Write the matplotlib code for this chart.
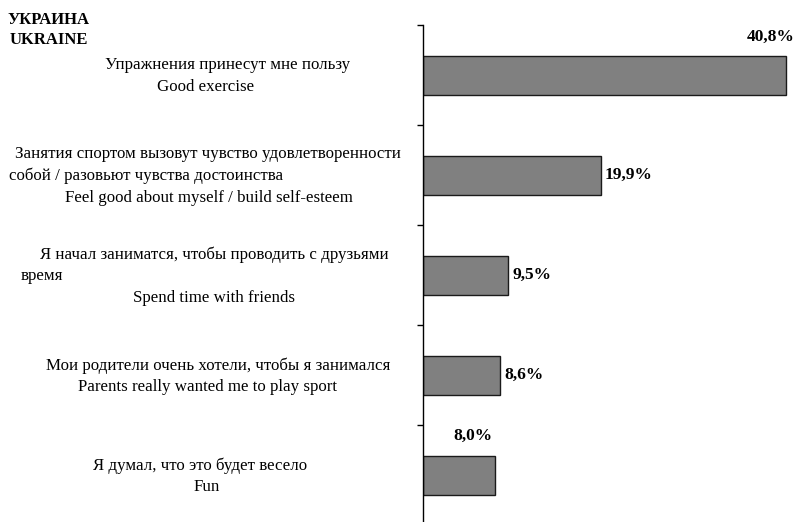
import matplotlib.pyplot as plt

# data
values = [40.8, 19.9, 9.5, 8.6, 8.0]
value_labels = ["40,8%", "19,9%", "9,5%", "8,6%", "8,0%"]
label_lines = [
    ["Упражнения принесут мне пользу", "Good exercise"],
    ["Занятия спортом вызовут чувство удовлетворенности",
     "собой / разовьют чувства достоинства",
     "Feel good about myself / build self-esteem"],
    ["Я начал заниматся, чтобы проводить с друзьями", "время",
     "Spend time with friends"],
    ["Мои родители очень хотели, чтобы я занимался",
     "Parents really wanted me to play sport"],
    ["Я думал, что это будет весело", "Fun"],
]
title_lines = ["УКРАИНА", "UKRAINE"]

# layout (pixels): x centre of every label line, line spacing
line_x = [
    [228, 206],
    [208, 146, 209],
    [214, 42, 214],
    [218, 208],
    [200, 207],
]
line_step = 21.5
# value label placement: (ha, dx px, dy px) relative to bar end / bar centre
lab_pos = [("right", 8, 38), ("left", 4, 0), ("left", 4, 0), ("left", 4, 0),
           ("center", -22, 39)]

W, H = 803, 522
plt.rcParams['font.family'] = ['Liberation Serif', 'DejaVu Serif']
fig = plt.figure(figsize=(W / 100, H / 100), dpi=100)

x0, ytop, ybot = 423.5, 25, 525
px_per = 8.897
xmax = 42
ax = fig.add_axes([x0 / W, (H - ybot) / H, xmax * px_per / W, (ybot - ytop) / H])

n = len(values)
ax.barh(range(n), values, height=0.39, color="#808080", edgecolor="#1a1a1a",
        linewidth=1)
ax.set_ylim(n - 0.5, -0.5)
ax.set_xlim(0, xmax)

for s in ["top", "right", "bottom"]:
    ax.spines[s].set_visible(False)
ax.spines["left"].set_linewidth(1)
ax.set_xticks([])
ax.set_yticks([i - 0.5 for i in range(n + 1)])
ax.set_yticklabels([])
ax.tick_params(axis="y", direction="out", length=4.5, width=1)

for i, (v, t) in enumerate(zip(values, value_labels)):
    ha, dx, dy = lab_pos[i]
    ax.annotate(t, (v, i), xytext=(dx * 0.72, dy * 0.72),
                textcoords="offset points", ha=ha, va="center",
                fontsize=12.5, fontweight="bold")

# category labels, line by line
for i, lines in enumerate(label_lines):
    yc = ytop + 100 * (i + 0.5) + 1
    k = len(lines)
    for j, line in enumerate(lines):
        yl = yc + (j - (k - 1) / 2) * line_step
        fig.text(line_x[i][j] / W, 1 - yl / H, line, ha="center", va="center",
                 fontsize=12.2)

for j, t in enumerate(title_lines):
    fig.text(49 / W, 1 - (20 + 20 * j) / H, t, ha="center", va="center",
             fontsize=12, fontweight="bold")

fig.savefig("out.png", dpi=100)
